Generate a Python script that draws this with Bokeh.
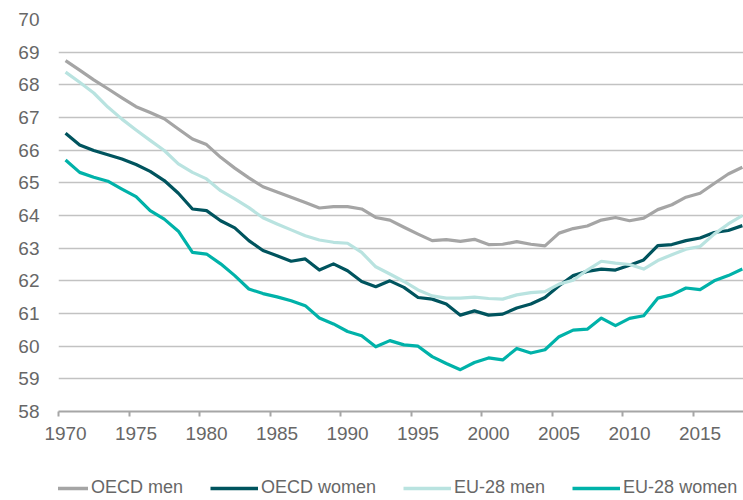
from bokeh.plotting import figure
from bokeh.layouts import column
from bokeh.models import Range1d, FixedTicker, Legend, LegendItem
from bokeh.embed import file_html
from bokeh.resources import INLINE

years = list(range(1970, 2019))

oecd_men = [68.74, 68.45, 68.15, 67.88, 67.6, 67.33, 67.15, 66.96, 66.65, 66.34,
            66.17, 65.78, 65.45, 65.15, 64.88, 64.72, 64.56, 64.4, 64.23, 64.27,
            64.27, 64.2, 63.94, 63.86, 63.64, 63.43, 63.23, 63.26, 63.21, 63.27,
            63.11, 63.12, 63.2, 63.12, 63.07, 63.46, 63.6, 63.68, 63.86, 63.94,
            63.84, 63.92, 64.18, 64.33, 64.56, 64.68, 64.98, 65.27, 65.48]

oecd_women = [66.52, 66.16, 65.99, 65.86, 65.73, 65.56, 65.35, 65.07, 64.68, 64.2,
              64.15, 63.84, 63.62, 63.23, 62.93, 62.77, 62.6, 62.67, 62.33, 62.52,
              62.31, 61.98, 61.82, 62.0, 61.8, 61.49, 61.44, 61.29, 60.95, 61.08,
              60.95, 60.98, 61.17, 61.29, 61.49, 61.85, 62.16, 62.29, 62.36, 62.33,
              62.48, 62.64, 63.08, 63.11, 63.23, 63.31, 63.48, 63.54, 63.69]

eu_men = [68.39, 68.08, 67.75, 67.32, 66.95, 66.62, 66.3, 65.99, 65.58, 65.32,
          65.12, 64.76, 64.51, 64.24, 63.93, 63.74, 63.56, 63.38, 63.25, 63.18,
          63.15, 62.87, 62.43, 62.21, 61.98, 61.72, 61.54, 61.47, 61.47, 61.5,
          61.46, 61.44, 61.57, 61.64, 61.67, 61.9, 62.02, 62.33, 62.6, 62.54,
          62.5, 62.36, 62.62, 62.8, 62.97, 63.05, 63.43, 63.74, 64.0]

eu_women = [65.7, 65.32, 65.17, 65.05, 64.81, 64.58, 64.15, 63.89, 63.52, 62.87,
            62.82, 62.52, 62.16, 61.75, 61.61, 61.51, 61.39, 61.24, 60.86, 60.68,
            60.45, 60.32, 59.98, 60.17, 60.04, 60.0, 59.68, 59.47, 59.28, 59.5,
            59.64, 59.58, 59.93, 59.79, 59.89, 60.29, 60.49, 60.52, 60.86, 60.63,
            60.85, 60.93, 61.47, 61.57, 61.78, 61.73, 62.0, 62.16, 62.36]

series_names = ["OECD men", "OECD women", "EU-28 men", "EU-28 women"]
series_values = [oecd_men, oecd_women, eu_men, eu_women]
colors = ["#a5a5a5", "#00545e", "#b9e3e0", "#00b2a9"]

tick_years = list(range(1970, 2019, 5))
y_ticks = list(range(58, 71))

FONT = "Liberation Sans"
TEXT_COLOR = "#676767"

p = figure(width=743, height=455, output_backend="svg", toolbar_location=None,
           x_range=Range1d(years[0] - 0.5, years[-1] + 0.08),
           y_range=Range1d(58, 70),
           min_border_left=58, min_border_right=0, min_border_top=19,
           min_border_bottom=44)
p.outline_line_color = None
p.background_fill_color = "white"
p.border_fill_color = "white"

for vals, col in zip(series_values, colors):
    p.line(years, vals, line_color=col, line_width=3.2, line_join="round")

# x axis: labels centred on the category, tick marks between categories
xa = p.xaxis[0]
xa.ticker = FixedTicker(ticks=tick_years, minor_ticks=[t - 0.5 for t in tick_years])
xa.major_tick_out = 0
xa.major_tick_in = 0
xa.minor_tick_out = 5
xa.minor_tick_in = 0
xa.minor_tick_line_color = "#a6a6a6"
xa.minor_tick_line_width = 2
xa.axis_line_color = "#a6a6a6"
xa.axis_line_width = 2
xa.major_label_standoff = 10
xa.major_label_text_font = FONT
xa.major_label_text_font_size = "19px"
xa.major_label_text_color = TEXT_COLOR

ya = p.yaxis[0]
ya.ticker = FixedTicker(ticks=y_ticks)
ya.axis_line_color = None
ya.major_tick_line_color = None
ya.minor_tick_line_color = None
ya.major_tick_out = 0
ya.major_tick_in = 0
ya.major_label_standoff = 19
ya.major_label_text_font = FONT
ya.major_label_text_font_size = "19px"
ya.major_label_text_color = TEXT_COLOR

p.xgrid.grid_line_color = None
p.ygrid.grid_line_color = "#c2c2c2"
p.ygrid.grid_line_width = 1.5

# legend strip below the chart (its lines lie outside its visible range)
lp = figure(width=743, height=45, output_backend="svg", toolbar_location=None,
            x_axis_location=None, y_axis_location=None,
            x_range=Range1d(0, 1), y_range=Range1d(0, 1),
            min_border_left=0, min_border_right=0, min_border_top=0, min_border_bottom=0)
lp.grid.visible = False
lp.outline_line_color = None
lp.background_fill_color = "white"
lp.border_fill_color = "white"

items = []
for name, vals, col in zip(series_names, series_values, colors):
    r = lp.line(years, vals, line_color=col, line_width=3.5)
    items.append(LegendItem(label=name, renderers=[r]))

legend = Legend(items=items, orientation="horizontal", location=(-18, 2),
                glyph_width=48, glyph_height=20, label_standoff=3, spacing=27,
                padding=0, margin=0, border_line_color=None, background_fill_alpha=0,
                label_text_font=FONT, label_text_font_size="18px",
                label_text_color=TEXT_COLOR)
lp.add_layout(legend, "center")

layout = column(p, lp, spacing=0)
open("out.html", "w").write(file_html(layout, INLINE))
